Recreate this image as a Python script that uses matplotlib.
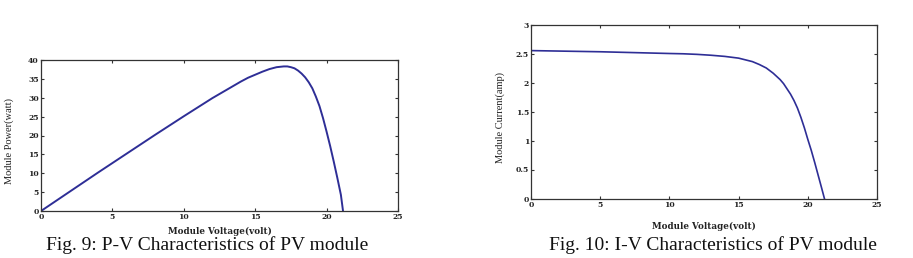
import matplotlib
matplotlib.use("Agg")
import matplotlib.pyplot as plt

# ---- data ----
pv_voltage = [0, 2, 4, 6, 8, 10, 12, 13, 14, 14.5, 15, 15.5, 16, 16.5, 17,
              17.25, 17.5, 17.75, 18, 18.25, 18.5, 18.75, 19, 19.25, 19.5,
              19.75, 20, 20.25, 20.5, 20.75, 21, 21.15]
pv_power = [0, 5.1, 10.2, 15.2, 20.2, 25.1, 29.9, 32.1, 34.3, 35.3, 36.1,
            36.9, 37.6, 38.1, 38.3, 38.3, 38.1, 37.8, 37.2, 36.4, 35.4, 34.1,
            32.5, 30.3, 27.8, 24.6, 21.0, 17.2, 13.1, 8.8, 4.3, 0]

iv_voltage = [0, 2.5, 5, 7.5, 10, 11, 12, 13, 14, 14.5, 15, 15.5, 16, 16.5,
              17, 17.5, 18, 18.25, 18.5, 18.75, 19, 19.25, 19.5, 19.75, 20,
              20.25, 20.5, 20.75, 21, 21.2]
iv_current = [2.55, 2.54, 2.53, 2.515, 2.50, 2.495, 2.485, 2.47, 2.45, 2.435,
              2.42, 2.39, 2.36, 2.31, 2.25, 2.16, 2.05, 1.98, 1.89, 1.80,
              1.69, 1.56, 1.40, 1.22, 1.02, 0.83, 0.62, 0.40, 0.18, 0]

x_ticks = [0, 5, 10, 15, 20, 25]
pv_yticks = [0, 5, 10, 15, 20, 25, 30, 35, 40]
iv_yticks = [0, 0.5, 1, 1.5, 2, 2.5, 3]
iv_ytick_labels = ["0", "0.5", "1", "1.5", "2", "2.5", "3"]

caption_left = "Fig. 9: P-V Characteristics of PV module"
caption_right = "Fig. 10: I-V Characteristics of PV module"

LINE = "#2e2e96"
SERIF = ["Liberation Serif", "DejaVu Serif"]
BOLD_SERIF = ["DejaVu Serif"]

fig = plt.figure(figsize=(9.13, 2.58), dpi=100)
W, H = 913, 258


def make_axes(l, t, r, b):
    return fig.add_axes([l / W, 1 - b / H, (r - l) / W, (b - t) / H])


def style(ax):
    for s in ax.spines.values():
        s.set_color("#333333")
        s.set_linewidth(0.9)
    ax.tick_params(direction="in", length=2.5, width=0.8, top=True, right=True,
                   colors="#333333", pad=1.5)
    for lab in ax.get_xticklabels() + ax.get_yticklabels():
        lab.set_fontfamily(BOLD_SERIF)
        lab.set_fontweight("bold")
        lab.set_fontsize(5.5)
        lab.set_color("#222222")


# Left: P-V
ax1 = make_axes(41, 60, 398, 211)
ax1.plot(pv_voltage, pv_power, color=LINE, lw=1.4)
ax1.set_xlim(0, 25)
ax1.set_ylim(0, 40)
ax1.set_xticks(x_ticks)
ax1.set_yticks(pv_yticks)
style(ax1)
ax1.set_xlabel("Module Voltage(volt)", fontfamily=BOLD_SERIF, fontweight="bold",
               fontsize=6.3, color="#222222")
ax1.xaxis.set_label_coords(0.5, -0.104)
ax1.set_ylabel("Module Power(watt)", fontfamily=SERIF, fontsize=7.5,
               color="#222222")
ax1.yaxis.set_label_coords(-0.076, 0.464)

# Right: I-V
ax2 = make_axes(531, 24.5, 877, 198.5)
ax2.plot(iv_voltage, iv_current, color=LINE, lw=1.2)
ax2.set_xlim(0, 25)
ax2.set_ylim(0, 3)
ax2.set_xticks(x_ticks)
ax2.set_yticks(iv_yticks)
ax2.set_yticklabels(iv_ytick_labels)
style(ax2)
ax2.set_xlabel("Module Voltage(volt)", fontfamily=BOLD_SERIF, fontweight="bold",
               fontsize=6.3, color="#222222")
ax2.xaxis.set_label_coords(0.5, -0.133)
ax2.set_ylabel("Module Current(amp)", fontfamily=SERIF, fontsize=7.5,
               color="#222222")
ax2.yaxis.set_label_coords(-0.075, 0.468)

fig.text(207 / W, 1 - 245 / H, caption_left, ha="center", va="center",
         fontfamily=SERIF, fontsize=14, color="#111111")
fig.text(713 / W, 1 - 245 / H, caption_right, ha="center", va="center",
         fontfamily=SERIF, fontsize=14, color="#111111")

fig.savefig("out.png", dpi=100)
